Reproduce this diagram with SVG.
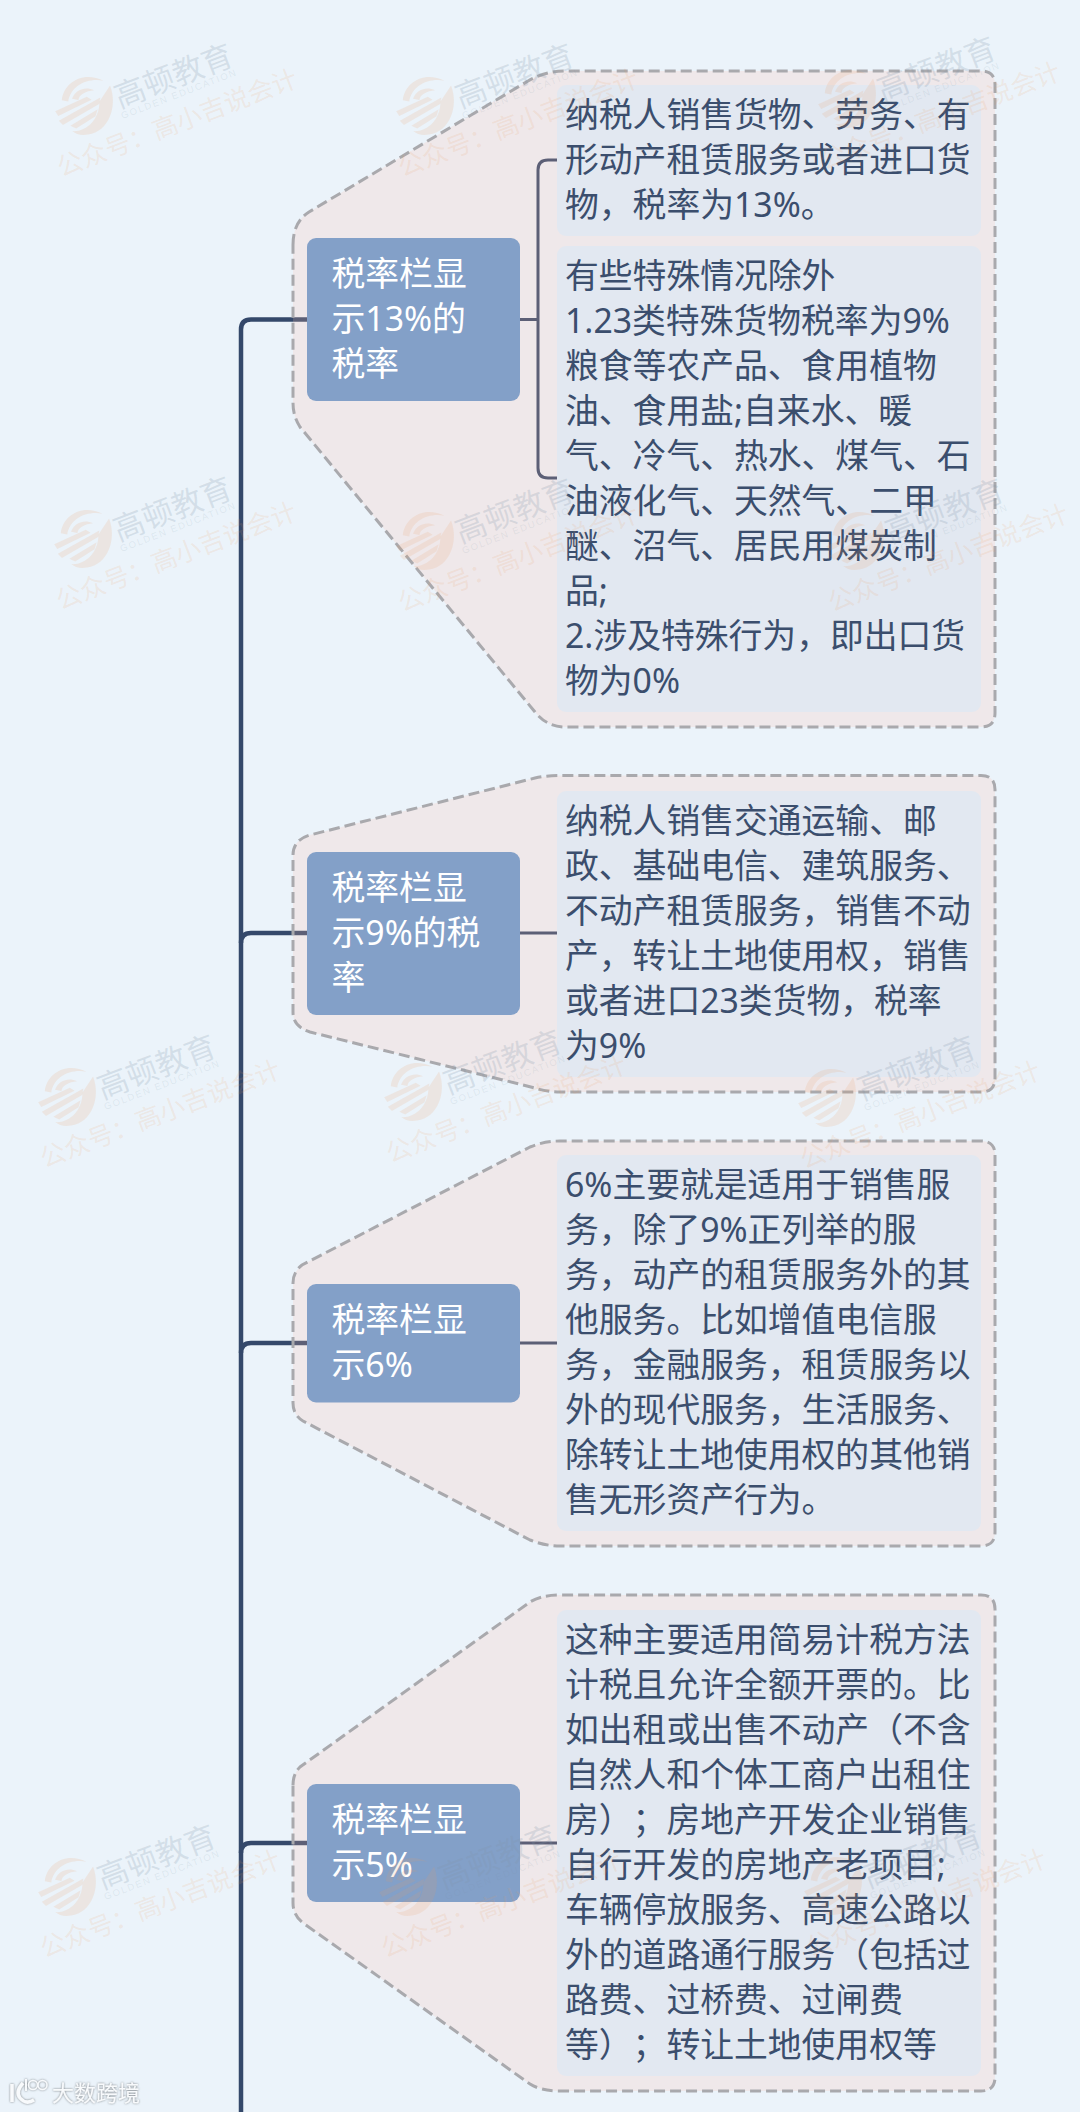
<svg xmlns="http://www.w3.org/2000/svg" xmlns:xlink="http://www.w3.org/1999/xlink" width="1080" height="2112" viewBox="0 0 1080 2112">
<style>
text{font-family:"Noto Sans","Noto Sans CJK SC",sans-serif;text-spacing-trim:space-all}
.bound{fill:#ffbcaa;fill-opacity:.2;stroke:#a9a9ad;stroke-width:3;stroke-dasharray:11 5}
.node{fill:#83a0c8}
.leaf{fill:#e2e8f1}
.nt{font-size:33.8px;fill:#fff}
.lt{font-size:33.8px;fill:#3b4e6d}
.trunk{fill:none;stroke:#34486a;stroke-width:4.5}
.branch{fill:none;stroke:#34486a;stroke-width:3}
.wm1{font-size:31px;fill:#7f93a8;fill-opacity:.22}
.wm2{font-size:9.5px;fill:#7f93a8;fill-opacity:.15;font-family:"Liberation Sans",sans-serif}
.wm3{font-size:25.5px;fill:#ee9c5e;fill-opacity:.14}
.wl{fill:#ee9c5e;fill-opacity:.15}
.tag{font-size:22px;fill:#f8fafc;font-family:"Noto Sans CJK SC",sans-serif}
</style>
<defs>
<g id="wmlogo">
<g transform="scale(1.12)">
<path class="wl" d="M-17,-11C-10,-25 10,-29 24,-14C11,-22 -5,-20 -12,-8Z"/>
<path class="wl" d="M-8,-9C-2,-16 8,-15 13,-9C6,-11 -1,-10 -3,-6Z"/>
<path class="wl" d="M-26,-4L5,-6L8,-2L-25,1Z"/>
<path class="wl" d="M-26,5L16,-1L13,4L-24,10Z"/>
<path class="wl" d="M-18,13L10,8L6,13L-14,17Z"/>
<path class="wl" d="M28,-8C28,12 12,30 -6,26C-12,25 -16,22 -18,18C-8,23 8,18 14,2Z"/>
</g>
</g>
<filter id="glow" x="-20%" y="-30%" width="140%" height="160%"><feDropShadow dx="0" dy="0" stdDeviation="1.2" flood-color="#777b80" flood-opacity="1"/></filter>
</defs>
<rect width="1080" height="2112" fill="#ebf3fa"/>
<g id="connectors">
<path class="trunk" d="M241,2112V329.5Q241,319.5 251,319.5H307"/>
<path class="trunk" d="M241,943Q241,933 251,933H307"/>
<path class="trunk" d="M241,1353Q241,1343 251,1343H307"/>
<path class="trunk" d="M241,1853Q241,1843 251,1843H307"/>
<path class="branch" d="M520,319.5H538"/>
<path class="branch" d="M557,160H548Q538,160 538,170V468Q538,478 548,478H557"/>
<path class="branch" d="M520,933H557"/>
<path class="branch" d="M520,1343H557"/>
<path class="branch" d="M520,1843H557"/>
</g>
<g id="group1">
<path class="bound" d="M293,245Q293,222 309,212L528,81Q545,71 565,71H981Q995,71 995,85V713Q995,727 981,727H565Q547,727 535,712L300,427Q293,416 293,403Z"/>
<rect class="node" x="307" y="238" width="213" height="163" rx="9"/>
<text class="nt"><tspan x="331.500" y="286">税率栏显</tspan><tspan x="331.500" y="331">示13%的</tspan><tspan x="331.500" y="376">税率</tspan></text>
<rect class="leaf" x="557" y="85" width="424" height="151" rx="9"/>
<text class="lt"><tspan x="565" y="127">纳税人销售货物、劳务、有</tspan><tspan x="565" y="172">形动产租赁服务或者进口货</tspan><tspan x="565" y="217">物，税率为13%。</tspan></text>
<rect class="leaf" x="557" y="246" width="424" height="466" rx="9"/>
<text class="lt"><tspan x="565" y="288">有些特殊情况除外</tspan><tspan x="565" y="333">1.23类特殊货物税率为9%</tspan><tspan x="565" y="378">粮食等农产品、食用植物</tspan><tspan x="565" y="423">油、食用盐;自来水、暖</tspan><tspan x="565" y="468">气、冷气、热水、煤气、石</tspan><tspan x="565" y="513">油液化气、天然气、二甲</tspan><tspan x="565" y="558">醚、沼气、居民用煤炭制</tspan><tspan x="565" y="603">品;</tspan><tspan x="565" y="648">2.涉及特殊行为，即出口货</tspan><tspan x="565" y="693">物为0%</tspan></text>
</g>
<g id="group2">
<path class="bound" d="M293,855Q293,840 310,835L535,778Q547,775.5 560,775.5H981Q995,775.5 995,789.5V1078Q995,1092 981,1092H560Q547,1092 535,1088L310,1032Q293,1027 293,1012Z"/>
<rect class="node" x="307" y="852" width="213" height="163" rx="9"/>
<text class="nt"><tspan x="331.500" y="900">税率栏显</tspan><tspan x="331.500" y="945">示9%的税</tspan><tspan x="331.500" y="990">率</tspan></text>
<rect class="leaf" x="557" y="791" width="424" height="286" rx="9"/>
<text class="lt"><tspan x="565" y="833">纳税人销售交通运输、邮</tspan><tspan x="565" y="878">政、基础电信、建筑服务、</tspan><tspan x="565" y="923">不动产租赁服务，销售不动</tspan><tspan x="565" y="968">产，转让土地使用权，销售</tspan><tspan x="565" y="1013">或者进口23类货物，税率</tspan><tspan x="565" y="1058">为9%</tspan></text>
</g>
<g id="group3">
<path class="bound" d="M293,1283Q293,1272 302,1265L530,1147Q545,1141 560,1141H981Q995,1141 995,1155V1532Q995,1546 981,1546H560Q545,1546 530,1540L303,1421Q293,1415 293,1403Z"/>
<rect class="node" x="307" y="1284" width="213" height="118.500" rx="9"/>
<text class="nt"><tspan x="331.500" y="1332">税率栏显</tspan><tspan x="331.500" y="1377">示6%</tspan></text>
<rect class="leaf" x="557" y="1155" width="424" height="376" rx="9"/>
<text class="lt"><tspan x="565" y="1197">6%主要就是适用于销售服</tspan><tspan x="565" y="1242">务，除了9%正列举的服</tspan><tspan x="565" y="1287">务，动产的租赁服务外的其</tspan><tspan x="565" y="1332">他服务。比如增值电信服</tspan><tspan x="565" y="1377">务，金融服务，租赁服务以</tspan><tspan x="565" y="1422">外的现代服务，生活服务、</tspan><tspan x="565" y="1467">除转让土地使用权的其他销</tspan><tspan x="565" y="1512">售无形资产行为。</tspan></text>
</g>
<g id="group4">
<path class="bound" d="M293,1785Q293,1774 300,1767L530,1602Q541,1595 560,1595H981Q995,1595 995,1609V2077Q995,2091 981,2091H560Q541,2091 530,2084L303,1923Q293,1915 293,1903Z"/>
<rect class="node" x="307" y="1784" width="213" height="118" rx="9"/>
<text class="nt"><tspan x="331.500" y="1832">税率栏显</tspan><tspan x="331.500" y="1877">示5%</tspan></text>
<rect class="leaf" x="557" y="1610" width="424" height="466" rx="9"/>
<text class="lt"><tspan x="565" y="1652">这种主要适用简易计税方法</tspan><tspan x="565" y="1697">计税且允许全额开票的。比</tspan><tspan x="565" y="1742">如出租或出售不动产（不含</tspan><tspan x="565" y="1787">自然人和个体工商户出租住</tspan><tspan x="565" y="1832">房）；房地产开发企业销售</tspan><tspan x="565" y="1877">自行开发的房地产老项目;</tspan><tspan x="565" y="1922">车辆停放服务、高速公路以</tspan><tspan x="565" y="1967">外的道路通行服务（包括过</tspan><tspan x="565" y="2012">路费、过桥费、过闸费</tspan><tspan x="565" y="2057">等）；转让土地使用权等</tspan></text>
</g>
<g id="watermarks">
<g transform="translate(84,105) rotate(-21)"><use xlink:href="#wmlogo"/><text class="wm1" x="32" y="16">高顿教育</text><text class="wm2" x="31" y="27" textLength="122">GOLDEN EDUCATION</text><text class="wm3" x="-47" y="59">公众号：高小吉说会计</text></g>
<g transform="translate(425,105) rotate(-21)"><use xlink:href="#wmlogo"/><text class="wm1" x="32" y="16">高顿教育</text><text class="wm2" x="31" y="27" textLength="122">GOLDEN EDUCATION</text><text class="wm3" x="-47" y="59">公众号：高小吉说会计</text></g>
<g transform="translate(847,98) rotate(-21)"><use xlink:href="#wmlogo"/><text class="wm1" x="32" y="16">高顿教育</text><text class="wm2" x="31" y="27" textLength="122">GOLDEN EDUCATION</text><text class="wm3" x="-47" y="59">公众号：高小吉说会计</text></g>
<g transform="translate(83,538) rotate(-21)"><use xlink:href="#wmlogo"/><text class="wm1" x="32" y="16">高顿教育</text><text class="wm2" x="31" y="27" textLength="122">GOLDEN EDUCATION</text><text class="wm3" x="-47" y="59">公众号：高小吉说会计</text></g>
<g transform="translate(425,540) rotate(-21)"><use xlink:href="#wmlogo"/><text class="wm1" x="32" y="16">高顿教育</text><text class="wm2" x="31" y="27" textLength="122">GOLDEN EDUCATION</text><text class="wm3" x="-47" y="59">公众号：高小吉说会计</text></g>
<g transform="translate(855,540) rotate(-21)"><use xlink:href="#wmlogo"/><text class="wm1" x="32" y="16">高顿教育</text><text class="wm2" x="31" y="27" textLength="122">GOLDEN EDUCATION</text><text class="wm3" x="-47" y="59">公众号：高小吉说会计</text></g>
<g transform="translate(67,1096) rotate(-21)"><use xlink:href="#wmlogo"/><text class="wm1" x="32" y="16">高顿教育</text><text class="wm2" x="31" y="27" textLength="122">GOLDEN EDUCATION</text><text class="wm3" x="-47" y="59">公众号：高小吉说会计</text></g>
<g transform="translate(413,1091) rotate(-21)"><use xlink:href="#wmlogo"/><text class="wm1" x="32" y="16">高顿教育</text><text class="wm2" x="31" y="27" textLength="122">GOLDEN EDUCATION</text><text class="wm3" x="-47" y="59">公众号：高小吉说会计</text></g>
<g transform="translate(827,1097) rotate(-21)"><use xlink:href="#wmlogo"/><text class="wm1" x="32" y="16">高顿教育</text><text class="wm2" x="31" y="27" textLength="122">GOLDEN EDUCATION</text><text class="wm3" x="-47" y="59">公众号：高小吉说会计</text></g>
<g transform="translate(67,1886) rotate(-21)"><use xlink:href="#wmlogo"/><text class="wm1" x="32" y="16">高顿教育</text><text class="wm2" x="31" y="27" textLength="122">GOLDEN EDUCATION</text><text class="wm3" x="-47" y="59">公众号：高小吉说会计</text></g>
<g transform="translate(408,1886) rotate(-21)"><use xlink:href="#wmlogo"/><text class="wm1" x="32" y="16">高顿教育</text><text class="wm2" x="31" y="27" textLength="122">GOLDEN EDUCATION</text><text class="wm3" x="-47" y="59">公众号：高小吉说会计</text></g>
<g transform="translate(833,1885) rotate(-21)"><use xlink:href="#wmlogo"/><text class="wm1" x="32" y="16">高顿教育</text><text class="wm2" x="31" y="27" textLength="122">GOLDEN EDUCATION</text><text class="wm3" x="-47" y="59">公众号：高小吉说会计</text></g>
</g>
<g id="site-mark" filter="url(#glow)">
<path d="M12,2084V2102" fill="none" stroke="#f8fafc" stroke-width="3.500"/>
<path d="M23,2083Q15,2092 20,2098Q26,2105 34,2100" fill="none" stroke="#f8fafc" stroke-width="3.500"/>
<path d="M26,2079V2091" fill="none" stroke="#f8fafc" stroke-width="2"/>
<circle cx="33" cy="2085" r="4.500" fill="none" stroke="#f8fafc" stroke-width="1.500"/>
<circle cx="42.500" cy="2085" r="4.500" fill="none" stroke="#f8fafc" stroke-width="1.500"/>
<text class="tag" x="52" y="2101">大数跨境</text>
</g>
</svg>
